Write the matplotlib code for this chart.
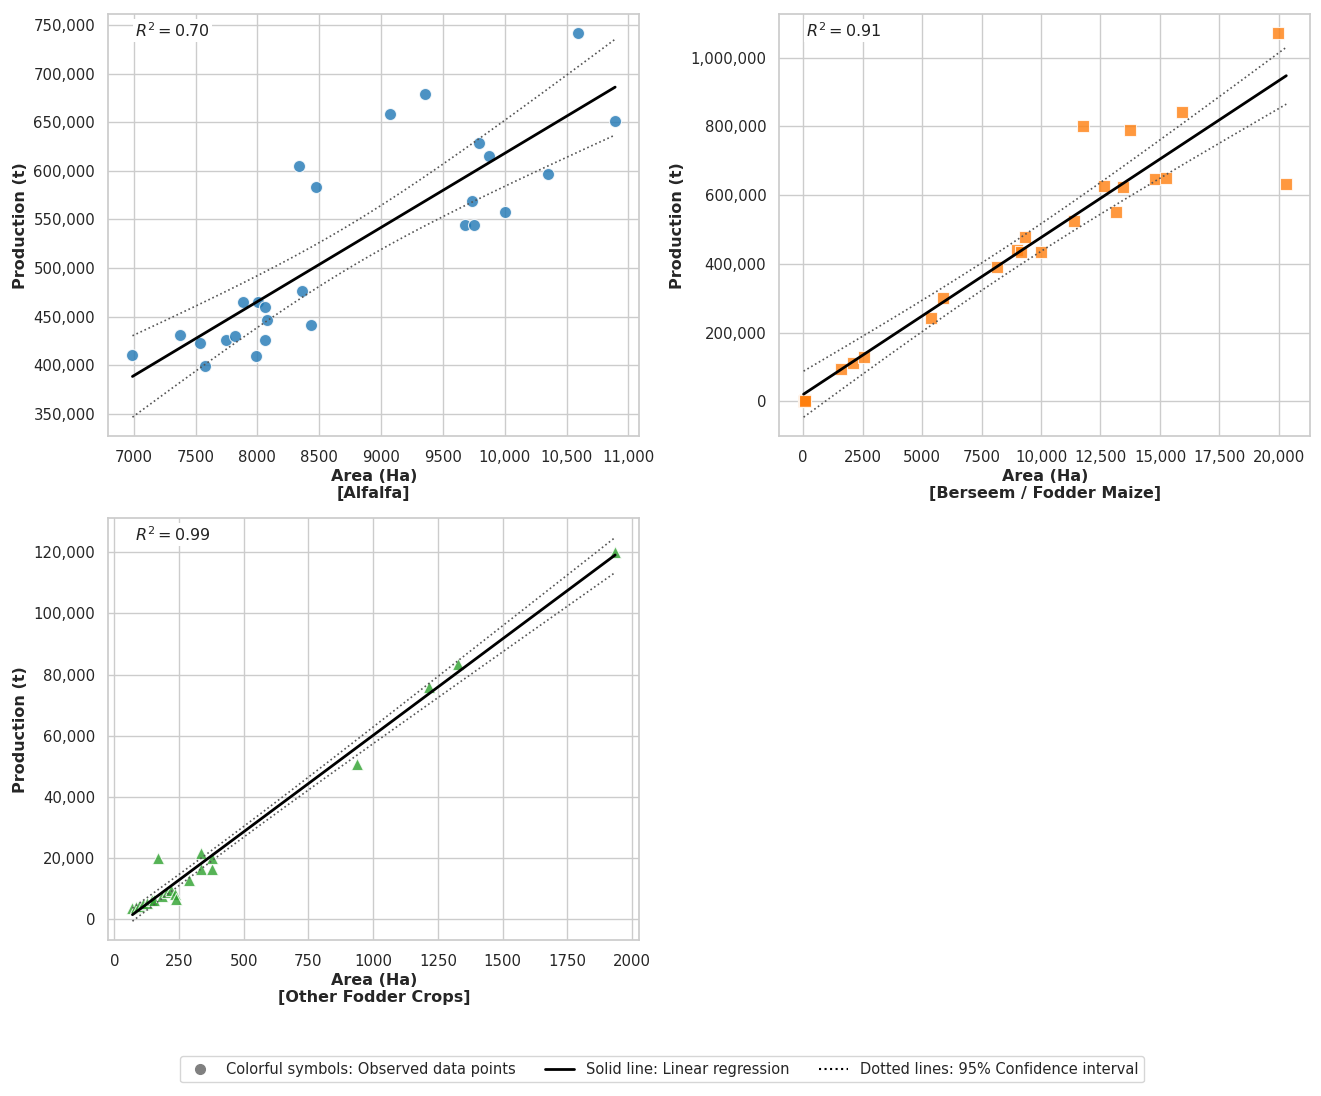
import numpy as np
import matplotlib
matplotlib.use("Agg")
import matplotlib.pyplot as plt
from matplotlib.ticker import FuncFormatter
from matplotlib.lines import Line2D
import seaborn as sns

# values
alfalfa_area = [6990, 7373, 7535, 7578, 7743, 7818, 7882, 8009, 8061, 8075, 8064, 7991, 8364, 8436,
                8335, 8474, 9069, 9353, 9795, 9876, 9737, 9682, 9754, 10003, 10353, 10592, 10893]
alfalfa_prod = [411000, 431000, 423000, 399000, 425500, 429600, 465000, 464600, 459500, 446100,
                426500, 409300, 475900, 441300, 604700, 583400, 658600, 679600, 628800, 615000,
                569400, 544000, 544000, 557700, 596800, 741400, 651100]

# several seasons sit on top of each other near zero
berseem_area = [20, 40, 50, 60, 80, 1595, 2112, 2541, 5391, 5894, 8154, 9010, 9143, 9306, 10015,
                11403, 11758, 12659, 13146, 13427, 13722, 14800, 15243, 15938, 19955, 20310]
berseem_prod = [2000, 2500, 1500, 3000, 2000, 95000, 112400, 128900, 243200, 300400, 390500,
                440900, 434100, 479700, 434100, 524200, 802300, 626900, 550400, 624000, 788800,
                648200, 651200, 842100, 1070700, 633700]

other_area = [70, 85, 95, 110, 127, 145, 153, 185, 205, 217, 167, 236, 240, 287, 333, 333, 379, 379,
              938, 1215, 1327, 1935]
other_prod = [3600, 4000, 4400, 4900, 5240, 6100, 6330, 7400, 9000, 9550, 20000, 8260, 6530, 12770,
              16450, 21500, 16450, 20000, 50600, 75800, 83300, 120000]

crop_names = ["Alfalfa", "Berseem / Fodder Maize", "Other Fodder Crops"]
r2_labels = ["0.70", "0.91", "0.99"]

sns.set_theme(style="whitegrid")
plt.rcParams['font.family'] = ['DejaVu Sans']

colors = ["#1f77b4", "#ff7f0e", "#2ca02c"]
markers = ["o", "s", "^"]


def t_quantile(df):
    # two sided 95% t value (series expansion around the normal quantile)
    z = 1.959964
    return (z + (z**3 + z) / (4 * df) + (5 * z**5 + 16 * z**3 + 3 * z) / (96 * df**2)
            + (3 * z**7 + 19 * z**5 + 17 * z**3 - 15 * z) / (384 * df**3))


def fmt(v, pos):
    if abs(v) >= 10000:
        return f"{v:,.0f}"
    return f"{v:.0f}"


fig, axes = plt.subplots(2, 2, figsize=(13.21, 10.96), dpi=100)
plt.subplots_adjust(left=0.082, right=0.992, top=0.987, bottom=0.142, wspace=0.264, hspace=0.194)
axes[1, 1].remove()

datasets = [(alfalfa_area, alfalfa_prod), (berseem_area, berseem_prod), (other_area, other_prod)]
for ax, (xs, ys), name, r2, c, m in zip([axes[0, 0], axes[0, 1], axes[1, 0]], datasets,
                                         crop_names, r2_labels, colors, markers):
    x = np.array(xs, dtype=float)
    y = np.array(ys, dtype=float)
    n = len(x)
    slope, icpt = np.polyfit(x, y, 1)
    resid = y - (slope * x + icpt)
    s = np.sqrt(np.sum(resid**2) / (n - 2))
    sxx = np.sum((x - x.mean())**2)
    xx = np.linspace(x.min(), x.max(), 200)
    yy = slope * xx + icpt
    half = t_quantile(n - 2) * s * np.sqrt(1 / n + (xx - x.mean())**2 / sxx)

    ax.scatter(x, y, s=75, marker=m, color=c, alpha=0.8, edgecolor="white", linewidth=0.8, zorder=3)
    ax.plot(xx, yy, color="black", lw=2, zorder=4)
    ax.plot(xx, yy + half, color="#555555", ls=":", lw=1.2, zorder=4)
    ax.plot(xx, yy - half, color="#555555", ls=":", lw=1.2, zorder=4)

    ax.text(0.05, 0.983, f"$R^2 = {r2}$", transform=ax.transAxes, fontsize=11.5, va="top",
            color="#222222", bbox=dict(facecolor="white", edgecolor="none", pad=1.5), zorder=5)
    ax.set_xlabel(f"Area (Ha)\n[{name}]", fontsize=11.5, fontweight="bold", labelpad=3)
    ax.set_ylabel("Production (t)", fontsize=11.5, fontweight="bold")
    ax.xaxis.set_major_formatter(FuncFormatter(fmt))
    ax.yaxis.set_major_formatter(FuncFormatter(fmt))
    ax.tick_params(labelsize=10.7)

handles = [
    Line2D([], [], marker="o", color="gray", ls="none", markersize=7),
    Line2D([], [], color="black", lw=2),
    Line2D([], [], color="black", lw=1.5, ls=":"),
]
labels = ["Colorful symbols: Observed data points", "Solid line: Linear regression",
          "Dotted lines: 95% Confidence interval"]
fig.legend(handles, labels, loc="center", bbox_to_anchor=(0.501, 0.0245), ncol=3, fontsize=10.5,
           frameon=True, edgecolor="#cccccc", fancybox=True)

fig.savefig("out.png", dpi=100)
